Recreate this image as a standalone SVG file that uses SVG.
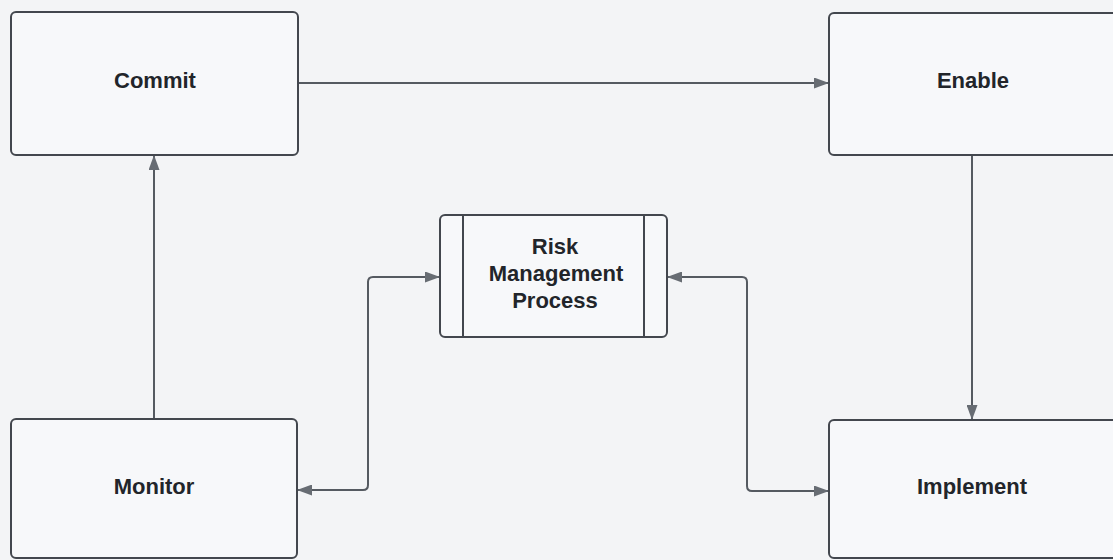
<svg xmlns="http://www.w3.org/2000/svg" width="1113" height="560" viewBox="0 0 1113 560">
  <defs>
    <style>
      .box { fill: #f7f8fa; stroke: #43474e; stroke-width: 2; }
      .bar { stroke: #43474e; stroke-width: 2; fill: none; }
      .label { font-family: "Liberation Sans", Arial, sans-serif; font-weight: bold; font-size: 22px; fill: #22252a; text-anchor: middle; }
      .link { fill: none; stroke: #555a61; stroke-width: 2; stroke-linejoin: round; }
    </style>
    <marker id="arrow" viewBox="0 0 15 11" refX="14" refY="5.5" markerWidth="15" markerHeight="11" markerUnits="userSpaceOnUse" orient="auto-start-reverse">
      <path d="M0,0 L15,5.5 L0,11 Z" fill="#676c73"/>
    </marker>
  </defs>

  <rect width="1113" height="560" fill="#f3f4f6"/>

  <g id="connectors">
    <path class="link" d="M298,83 H828" marker-end="url(#arrow)"/>
    <path class="link" d="M972,155 V419" marker-end="url(#arrow)"/>
    <path class="link" d="M154,419 V156" marker-end="url(#arrow)"/>
    <path class="link" d="M298,490 H363 Q368,490 368,485 V282 Q368,277 373,277 H439" marker-start="url(#arrow)" marker-end="url(#arrow)"/>
    <path class="link" d="M668,277 H742 Q747,277 747,282 V486 Q747,491 752,491 H828" marker-start="url(#arrow)" marker-end="url(#arrow)"/>
  </g>

  <g id="commit">
    <rect class="box" x="11" y="12" width="287" height="143" rx="5"/>
    <text class="label" x="155" y="88">Commit</text>
  </g>

  <g id="enable">
    <rect class="box" x="829" y="13" width="290" height="142" rx="5"/>
    <text class="label" x="973" y="88">Enable</text>
  </g>

  <g id="risk-management-process">
    <rect class="box" x="440" y="215" width="227" height="122" rx="5"/>
    <line class="bar" x1="463" y1="215" x2="463" y2="337"/>
    <line class="bar" x1="644" y1="215" x2="644" y2="337"/>
    <text class="label" x="555" y="254">Risk</text>
    <text class="label" x="556" y="281">Management</text>
    <text class="label" x="555" y="308">Process</text>
  </g>

  <g id="monitor">
    <rect class="box" x="11" y="419" width="286" height="139" rx="5"/>
    <text class="label" x="154" y="494">Monitor</text>
  </g>

  <g id="implement">
    <rect class="box" x="829" y="420" width="290" height="138" rx="5"/>
    <text class="label" x="972" y="494">Implement</text>
  </g>
</svg>
